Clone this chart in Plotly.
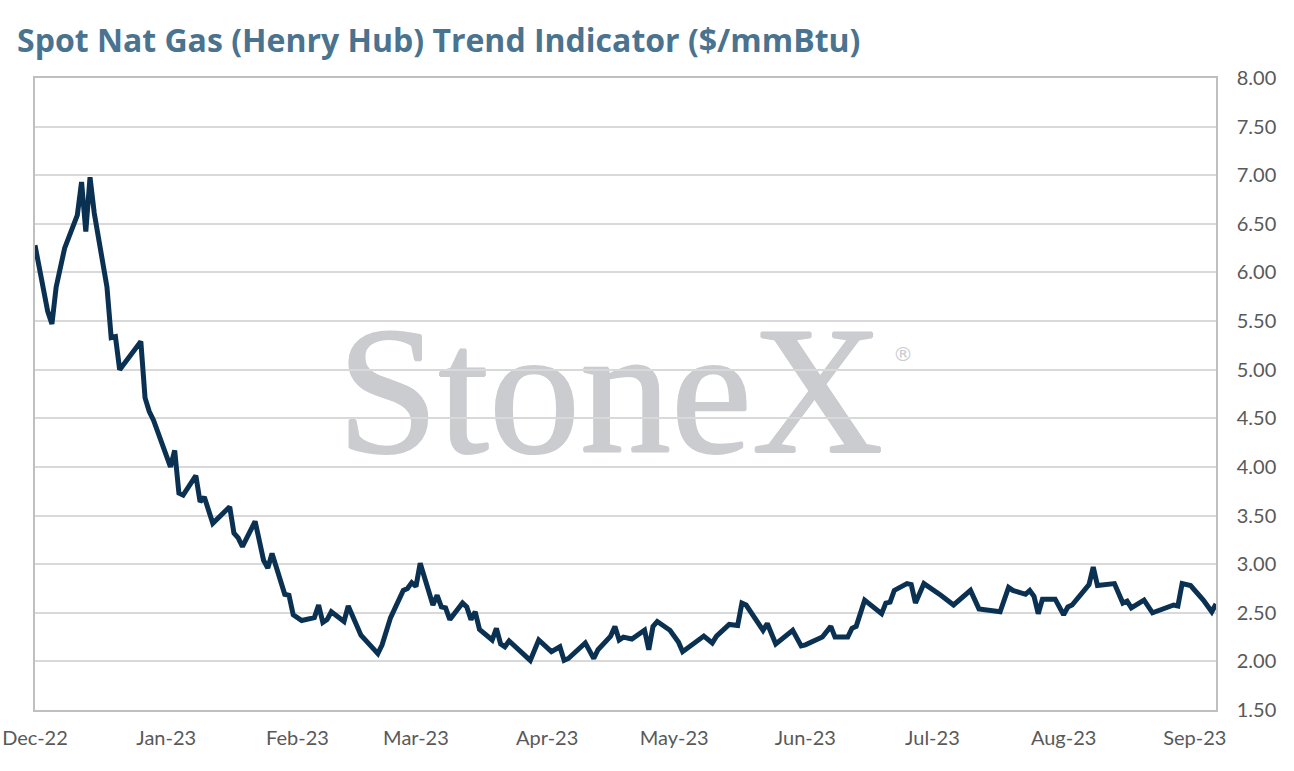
import plotly.graph_objects as go

# Henry Hub spot (turning points)
dates = [
    "2022-12-01", "2022-12-04", "2022-12-05", "2022-12-06", "2022-12-08", "2022-12-11",
    "2022-12-12", "2022-12-13", "2022-12-14", "2022-12-15", "2022-12-18", "2022-12-19",
    "2022-12-20", "2022-12-21", "2022-12-26", "2022-12-27", "2022-12-28", "2022-12-29",
    "2023-01-02", "2023-01-03", "2023-01-04", "2023-01-05", "2023-01-08", "2023-01-09",
    "2023-01-10", "2023-01-12", "2023-01-16", "2023-01-17", "2023-01-18", "2023-01-19",
    "2023-01-22", "2023-01-24", "2023-01-25", "2023-01-26", "2023-01-29", "2023-01-30",
    "2023-01-31", "2023-02-01", "2023-02-02", "2023-02-05", "2023-02-06", "2023-02-07",
    "2023-02-08", "2023-02-09", "2023-02-12", "2023-02-13", "2023-02-16", "2023-02-20",
    "2023-02-21", "2023-02-23", "2023-02-26", "2023-02-27", "2023-02-28", "2023-03-01",
    "2023-03-02", "2023-03-05", "2023-03-06", "2023-03-07", "2023-03-08", "2023-03-09",
    "2023-03-12", "2023-03-13", "2023-03-14", "2023-03-15", "2023-03-16", "2023-03-19",
    "2023-03-20", "2023-03-21", "2023-03-22", "2023-03-23", "2023-03-26", "2023-03-28",
    "2023-03-30", "2023-04-02", "2023-04-04", "2023-04-05", "2023-04-06", "2023-04-10",
    "2023-04-12", "2023-04-13", "2023-04-16", "2023-04-17", "2023-04-18", "2023-04-19",
    "2023-04-21", "2023-04-24", "2023-04-25", "2023-04-26", "2023-04-27", "2023-04-30",
    "2023-05-02", "2023-05-03", "2023-05-08", "2023-05-10", "2023-05-11", "2023-05-14",
    "2023-05-16", "2023-05-17", "2023-05-18", "2023-05-22", "2023-05-23", "2023-05-25",
    "2023-05-29", "2023-05-31", "2023-06-01", "2023-06-05", "2023-06-07", "2023-06-08",
    "2023-06-11", "2023-06-12", "2023-06-13", "2023-06-15", "2023-06-19", "2023-06-20",
    "2023-06-21", "2023-06-22", "2023-06-25", "2023-06-26", "2023-06-27", "2023-06-29",
    "2023-07-03", "2023-07-06", "2023-07-10", "2023-07-12", "2023-07-17", "2023-07-18",
    "2023-07-19", "2023-07-20", "2023-07-23", "2023-07-24", "2023-07-25", "2023-07-26",
    "2023-07-27", "2023-07-30", "2023-08-01", "2023-08-02", "2023-08-03", "2023-08-07",
    "2023-08-08", "2023-08-09", "2023-08-13", "2023-08-15", "2023-08-16", "2023-08-17",
    "2023-08-20", "2023-08-22", "2023-08-25", "2023-08-27", "2023-08-28", "2023-08-29",
    "2023-08-31", "2023-09-03", "2023-09-05", "2023-09-06",
]
prices = [
    6.28, 5.60, 5.47, 5.85, 6.25, 6.59,
    6.93, 6.42, 6.98, 6.61, 5.85, 5.33,
    5.34, 5.00, 5.29, 4.71, 4.57, 4.48,
    4.00, 4.17, 3.73, 3.71, 3.91, 3.64,
    3.69, 3.42, 3.59, 3.32, 3.27, 3.18,
    3.44, 3.04, 2.96, 3.11, 2.69, 2.68,
    2.48, 2.45, 2.42, 2.45, 2.58, 2.40,
    2.43, 2.51, 2.41, 2.57, 2.27, 2.08,
    2.17, 2.45, 2.73, 2.75, 2.81, 2.77,
    3.01, 2.58, 2.68, 2.56, 2.55, 2.43,
    2.60, 2.56, 2.43, 2.51, 2.33, 2.22,
    2.34, 2.18, 2.15, 2.21, 2.10, 2.01,
    2.22, 2.10, 2.15, 2.01, 2.03, 2.19,
    2.03, 2.12, 2.26, 2.36, 2.22, 2.25,
    2.23, 2.32, 2.12, 2.36, 2.41, 2.32,
    2.20, 2.10, 2.26, 2.19, 2.26, 2.38,
    2.37, 2.60, 2.58, 2.32, 2.39, 2.18,
    2.32, 2.16, 2.17, 2.25, 2.36, 2.25,
    2.25, 2.34, 2.36, 2.63, 2.49, 2.60,
    2.61, 2.73, 2.80, 2.79, 2.60, 2.80,
    2.68, 2.58, 2.73, 2.54, 2.51, 2.62,
    2.76, 2.73, 2.69, 2.73, 2.67, 2.49,
    2.64, 2.64, 2.48, 2.56, 2.58, 2.79,
    2.97, 2.78, 2.80, 2.60, 2.62, 2.55,
    2.63, 2.50, 2.55, 2.58, 2.57, 2.80,
    2.78, 2.63, 2.51, 2.59,
]

x_range = ["2022-12-01", "2023-09-06"]
y_range = [1.5, 8.0]

title_text = "Spot Nat Gas (Henry Hub) Trend Indicator ($/mmBtu)"
brand = "StoneX"

wm_grey = "#cbccd0"
fig = go.Figure()

# watermark lives on its own (hidden) subplot so the grid of the main one sits over it
fig.add_trace(go.Scatter(
    x=[0.487], y=[0.481], mode="text", text=[brand],
    textfont=dict(family="Liberation Serif", size=182, color=wm_grey,
                  shadow="1px 0 0 %s, -1px 0 0 %s, 0 1px 0 %s, 0 -1px 0 %s" % ((wm_grey,) * 4)),
    textposition="middle center", hoverinfo="skip", showlegend=False,
    xaxis="x", yaxis="y",
))
fig.add_trace(go.Scatter(
    x=[0.735], y=[0.56], mode="text", text=["®"],
    textfont=dict(family="DejaVu Sans", size=20, color=wm_grey),
    textposition="middle center", hoverinfo="skip", showlegend=False,
    xaxis="x", yaxis="y",
))

fig.add_trace(go.Scatter(
    x=dates, y=prices, mode="lines",
    line=dict(color="#0b3152", width=5),
    name="Henry Hub", showlegend=False,
    xaxis="x2", yaxis="y2",
))

tick_font = dict(family="Lato", size=20, color="#595959")

fig.update_layout(
    width=1294, height=771,
    margin=dict(l=35, r=78, t=78, b=61),
    paper_bgcolor="white", plot_bgcolor="rgba(0,0,0,0)",
    title=dict(
        text=title_text,
        x=17 / 1294, xanchor="left", xref="container",
        y=1 - 41 / 771, yanchor="middle",
        font=dict(family="Open Sans", size=32, weight=700, color="#4a7390"),
    ),
    xaxis=dict(domain=[0, 1], range=[0, 1], visible=False, fixedrange=True),
    yaxis=dict(domain=[0, 1], range=[0, 1], visible=False, fixedrange=True),
    xaxis2=dict(
        domain=[0, 1], anchor="y2", type="date", range=x_range, automargin=False,
        tick0="2022-12-01", dtick="M1", tickformat="%b-%y",
        showgrid=False, zeroline=False,
        showline=True, mirror=True, linecolor="#bfbfbf", linewidth=1.5,
        ticks="outside", ticklen=9, tickcolor="rgba(0,0,0,0)", tickfont=tick_font,
    ),
    yaxis2=dict(
        domain=[0, 1], anchor="x2", side="right", range=y_range, automargin=False,
        dtick=0.5, tickformat=".2f",
        showgrid=True, gridcolor="#d9d9d9", gridwidth=1.5, zeroline=False,
        showline=True, mirror=True, linecolor="#bfbfbf", linewidth=1.5,
        ticks="outside", ticklen=15, tickcolor="rgba(0,0,0,0)", tickfont=tick_font,
    ),
)

fig.write_html(
    "out.html",
    config={"displayModeBar": False},
    post_script="document.body.style.margin='0';document.body.style.overflow='hidden';",
)
